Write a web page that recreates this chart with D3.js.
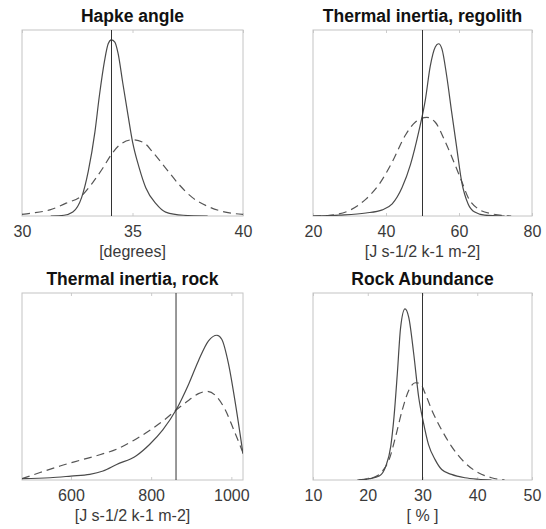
<!DOCTYPE html>
<html lang="en">
<head>
    <meta charset="UTF-8">
    <title>Posterior distributions</title>
    <style>
        body { margin: 0; background: #fff; }
        svg { display: block; }
        .frame { fill: none; stroke: #c4c4c4; stroke-width: 1; }
        .solid { fill: none; stroke: #4a4a4a; stroke-width: 1.2; }
        .dashed { fill: none; stroke: #555; stroke-width: 1.2; stroke-dasharray: 8, 5; }
        .vline { stroke: #333; stroke-width: 1; }
        .title { font-family: "Liberation Sans", Arial, sans-serif; font-size: 17.5px; font-weight: bold; fill: #111; text-anchor: middle; }
        .xlabel { font-family: "Liberation Sans", Arial, sans-serif; font-size: 16px; fill: #3a3a3a; text-anchor: middle; }
        .tick text { font-family: "Liberation Sans", Arial, sans-serif; font-size: 16px; fill: #3a3a3a; }
        .tick line { stroke: #ccc; }
    </style>
</head>
<body>
    <svg width="546" height="529"></svg>
    <script src="https://d3js.org/d3.v7.min.js"></script>
    <script>
        // panel titles, axis labels, ticks
        var titles = ["Hapke angle", "Thermal inertia, regolith", "Thermal inertia, rock", "Rock Abundance"];
        var xLabels = ["[degrees]", "[J s-1/2 k-1 m-2]", "[J s-1/2 k-1 m-2]", "[ % ]"];
        var xDomains = [[30, 40], [20, 80], [478, 1029], [10, 50]];
        var xTicks = [[30, 35, 40], [20, 40, 60, 80], [600, 800, 1000], [10, 20, 30, 40, 50]];
        var refValues = [34.05, 50, 862, 30];

        // Hapke angle
        var hapkeSolidX = [31.3, 31.9, 32.3, 32.7, 33.0, 33.3, 33.5, 33.74, 33.9, 34.04, 34.2, 34.35, 34.56, 34.8, 35.0, 35.3, 35.6, 36.07, 36.5, 37.3, 38.4];
        var hapkeSolidY = [0, 0.004, 0.021, 0.1, 0.241, 0.452, 0.645, 0.838, 0.926, 0.947, 0.935, 0.873, 0.715, 0.54, 0.40, 0.26, 0.152, 0.065, 0.021, 0.004, 0];
        var hapkeDashX = [30, 30.5, 31.26, 32.0, 32.7, 33.2, 33.66, 34.04, 34.4, 35.0, 35.5, 35.9, 36.5, 37.1, 37.7, 38.5, 39.2, 40];
        var hapkeDashY = [0.009, 0.016, 0.033, 0.069, 0.109, 0.18, 0.258, 0.33, 0.38, 0.41, 0.395, 0.346, 0.258, 0.17, 0.1, 0.047, 0.021, 0.009];

        // Thermal inertia, regolith
        var regSolidX = [20, 27.2, 34.5, 39, 41.7, 44.4, 46.7, 48.96, 50.8, 52.1, 53.5, 54.4, 55.3, 56.65, 58, 59.4, 60.7, 62.5, 64.3, 67, 72.5];
        var regSolidY = [0, 0.005, 0.016, 0.033, 0.065, 0.153, 0.276, 0.452, 0.627, 0.803, 0.909, 0.926, 0.9, 0.75, 0.557, 0.364, 0.188, 0.065, 0.021, 0.005, 0];
        var regDashX = [20, 24.5, 30, 34.5, 38.1, 41.7, 45.3, 48, 51.2, 53.5, 56.2, 58.9, 60.7, 62.5, 65.2, 68.9, 74.3];
        var regDashY = [0, 0.004, 0.03, 0.091, 0.17, 0.29, 0.434, 0.504, 0.53, 0.504, 0.4, 0.276, 0.188, 0.1, 0.039, 0.012, 0];

        // Thermal inertia, rock
        var rockSolidX = [478, 548, 600, 647, 680, 714, 763, 796, 829, 862, 894, 918, 943, 964, 976, 993, 1010, 1029];
        var rockSolidY = [0.007, 0.012, 0.021, 0.03, 0.048, 0.083, 0.13, 0.19, 0.268, 0.374, 0.515, 0.638, 0.744, 0.774, 0.753, 0.62, 0.41, 0.14];
        var rockDashX = [478, 523, 573, 622, 672, 714, 755, 796, 838, 862, 894, 918, 939, 960, 985, 1006, 1029];
        var rockDashY = [0.007, 0.04, 0.075, 0.105, 0.135, 0.165, 0.21, 0.265, 0.33, 0.374, 0.427, 0.462, 0.474, 0.453, 0.374, 0.268, 0.145];

        // Rock abundance
        var abSolidX = [18.1, 20.3, 22.1, 23.3, 24.2, 24.8, 25.4, 26.0, 26.8, 27.5, 28.4, 29.3, 30.2, 31.1, 32.3, 33.5, 35.3, 37.75, 40.2, 42.6];
        var abSolidY = [0, 0.007, 0.021, 0.074, 0.18, 0.339, 0.568, 0.815, 0.915, 0.868, 0.674, 0.444, 0.303, 0.189, 0.109, 0.056, 0.03, 0.012, 0.004, 0];
        var abDashX = [18.4, 20.9, 22.7, 23.9, 25.1, 26.3, 27.5, 28.7, 29.6, 30.5, 31.7, 33.5, 35.3, 37.75, 40.2, 42.6, 45.0];
        var abDashY = [0, 0.012, 0.048, 0.109, 0.233, 0.374, 0.48, 0.52, 0.515, 0.462, 0.374, 0.268, 0.18, 0.092, 0.039, 0.012, 0];

        var solids = [[hapkeSolidX, hapkeSolidY], [regSolidX, regSolidY], [rockSolidX, rockSolidY], [abSolidX, abSolidY]];
        var dashes = [[hapkeDashX, hapkeDashY], [regDashX, regDashY], [rockDashX, rockDashY], [abDashX, abDashY]];

        // plot boxes (left, top, right, bottom)
        var boxes = [
            [22, 30, 243, 216],
            [313, 30, 532, 216],
            [22, 293, 243, 480],
            [313, 293, 532, 480]
        ];

        var svg = d3.select("svg");

        boxes.forEach(function (b, i) {
            var x = d3.scaleLinear().domain(xDomains[i]).range([b[0], b[2]]);
            var y = d3.scaleLinear().domain([0, 1]).range([b[3], b[1]]);
            var g = svg.append("g");

            g.append("clipPath").attr("id", "clip" + i)
                .append("rect")
                .attr("x", b[0]).attr("y", b[1])
                .attr("width", b[2] - b[0]).attr("height", b[3] - b[1]);

            // inward ticks on top
            g.append("g")
                .attr("transform", "translate(0," + b[1] + ")")
                .call(d3.axisTop(x).tickValues(xTicks[i]).tickSize(-3).tickFormat(""))
                .call(function (a) { a.select(".domain").remove(); });

            // bottom axis, ticks pointing in
            g.append("g")
                .attr("transform", "translate(0," + b[3] + ")")
                .call(d3.axisBottom(x).tickValues(xTicks[i]).tickFormat(d3.format("d"))
                    .tickSizeInner(-3).tickSizeOuter(0).tickPadding(9.5))
                .call(function (a) { a.select(".domain").remove(); });

            g.append("rect").attr("class", "frame")
                .attr("x", b[0]).attr("y", b[1])
                .attr("width", b[2] - b[0]).attr("height", b[3] - b[1]);

            var line = d3.line()
                .x(function (d) { return x(d[0]); })
                .y(function (d) { return y(d[1]); })
                .curve(d3.curveMonotoneX);

            var plot = g.append("g").attr("clip-path", "url(#clip" + i + ")");

            plot.append("path").attr("class", "dashed")
                .attr("d", line(d3.zip(dashes[i][0], dashes[i][1])));
            plot.append("path").attr("class", "solid")
                .attr("d", line(d3.zip(solids[i][0], solids[i][1])));

            plot.append("line").attr("class", "vline")
                .attr("x1", x(refValues[i])).attr("x2", x(refValues[i]))
                .attr("y1", b[1]).attr("y2", b[3]);

            g.append("text").attr("class", "title")
                .attr("x", (b[0] + b[2]) / 2).attr("y", b[1] - 8)
                .text(titles[i]);

            g.append("text").attr("class", "xlabel")
                .attr("x", (b[0] + b[2]) / 2).attr("y", b[3] + 41)
                .text(xLabels[i]);
        });
    </script>
</body>
</html>
